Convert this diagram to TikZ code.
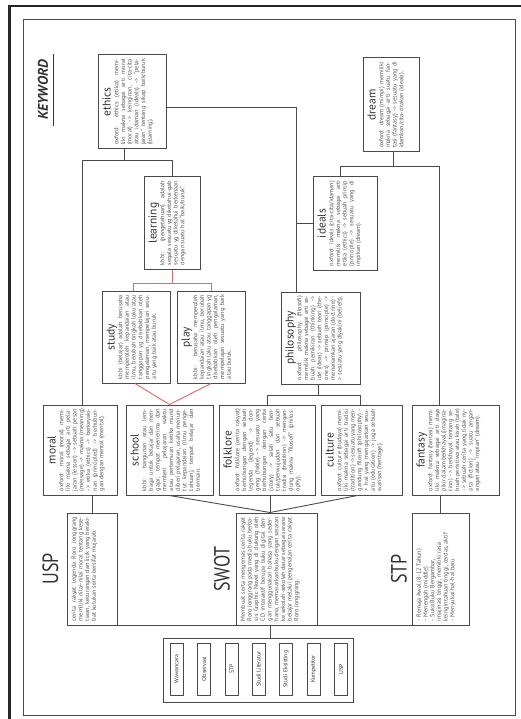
\documentclass[tikz,border=0pt]{standalone}
\usepackage{fontspec}
\setmainfont{PT Sans}
\usetikzlibrary{calc}
\definecolor{lnc}{HTML}{4A4A4A}
\definecolor{txc}{HTML}{555555}
\definecolor{ttc}{HTML}{333333}
\definecolor{redl}{HTML}{E06666}
\newcommand\kb[6]{\node[kbox] (#1) at (#2,#3) {\parbox[c][\dimexpr#4pt-9pt\relax][t]{\dimexpr#5pt-8pt\relax}{#6}};}
\newcommand\ttl[1]{{\centering\fontsize{11.5}{12}\selectfont\color{ttc}#1\par}\vspace{1pt}}
\newcommand\bdy[1]{{\fontsize{6.1}{6.7}\selectfont\color{txc}\tolerance=9999\hbadness=10000\hfuzz=3pt\emergencystretch=4pt\lineskiplimit=-6pt #1\par}}
\tikzset{
  kbox/.style={draw=lnc, line width=1pt, rotate=90, inner xsep=4pt, inner ysep=4.5pt, fill=white},
  ln/.style={draw=lnc, line width=0.9pt},
  rl/.style={draw=redl, line width=0.9pt},
  bigt/.style={rotate=90, inner sep=0pt, text=ttc, font=\fontsize{22}{22}\selectfont},
  sbox/.style={draw=lnc, line width=0.9pt, rotate=90, minimum width=52pt, minimum height=13pt, inner sep=0pt, text=ttc, font=\fontsize{5.8}{6}\selectfont}
}
\begin{document}
\begin{tikzpicture}[x=1pt,y=-1pt]
\fill[white] (0,0) rectangle (521,719);
\useasboundingbox (0,0) rectangle (521,719);
% frames
\draw[black!85, line width=2.2pt] (9.5,730) -- (9.5,6) -- (530,6);
\draw[lnc, line width=0.8pt] (23,19) rectangle (515,715);
% keyword
\node[rotate=90, inner sep=0pt, text=ttc, font=\bfseries\itshape\fontsize{14}{14}\selectfont] (kw) at (43,90) {KEYWORD};
\draw[ttc, line width=1.1pt] ($(kw.south west)+(5,6)$) -- ($(kw.south east)+(5,-6)$);
% boxes
\kb{ethics}{132}{102}{68}{94}{\ttl{ethics}\bdy{oxford: ethics (etika) memiliki makna sebagai arti moral (moral) -> keinginan, cita-cita atau idaman (ideals) -> “pelajaran” tentang sikap baik/buruk (learning).}}
\kb{learning}{172}{223}{56}{92}{\ttl{learning}\bdy{kbbi: (pengetahuan) adalah segala sesuatu yg diketahui-gab sesuatu yg diketahui berkenaan dengan suatu hal “baik/buruk”.}}
\kb{study}{136}{337}{68}{92}{\ttl{study}\bdy{kbbi (belajar) adalah berusaha memperoleh kepandaian atau ilmu, berubah tingkah laku atau tanggapan yg disebabkan oleh pengalaman, mempelajari sesuatu yang baik atau buruk.}}
\kb{play}{211}{337}{68}{92}{\ttl{play}\bdy{kbbi: berusaha memperoleh kepandaian atau ilmu, berubah tingkah laku atau tanggapan yg disebabkan oleh pengalaman, mempelajari sesuatu yang baik atau buruk.}}
\kb{philosophy}{320.5}{338}{79}{92}{\ttl{philosophy}\bdy{oxford: philosophy (filosofi) memiliki makna sebagai arti sebuah pemikiran (thinking) -> ide (ideas) -> sebuah teori (theories) -> prinsip (principle) -> menanamkan ajaran (doctrine) -> sesuatu yang diyakini (beliefs).}}
\kb{ideals}{345}{223.5}{64}{93}{\ttl{ideals}\bdy{oxford: ideals (cita-cita/idaman) memiliki makna sebagai arti etika (ethics) -> sebuah prinsip (principle) -> sesuatu yang di impikan (dream).}}
\kb{dream}{391}{105}{56}{94}{\ttl{dream}\bdy{oxford: dream (mimpi) memiliki makna sebagai arti suatu fantasi (fantasy) -> sesuatu yang di idamkan/cita-citakan (ideals).}}
\kb{moral}{80}{450}{74}{90}{\ttl{moral}\bdy{oxford: moral (moral) memiliki makna sebagai arti pelajaran (lesson) -> sebuah pesan (message) -> makna (meaning) -> etika (ethics) -> berkeyakinan (principled) -> berhubungan dengan mental (mental).}}
\kb{school}{169.5}{450}{87}{90}{\ttl{school}\bdy{kbbi: bangunan atau lembaga untuk belajar dan mengajar, tempat menerima dan memberi pelajaran waktu atau pertemuan ketika murid diberi pelajaran, usaha menuntut kepandaian (ilmu pengetahuan), tempat belajar dan bermain.}}
\kb{folklore}{267}{450}{96}{90}{\ttl{folklore}\bdy{oxford: folklore (cerita rakyat) berhubungan dengan sebuah legenda (legend) -> dongeng (fable) -> sesuatu yang berhubungan dengan cerita (story) -> salah satu bentuk/perwujudan dari sebuah tradisi (tradition) -> mengandung makna “filosofi” (philosophy).}}
\kb{culture}{361.5}{450}{81}{90}{\ttl{culture}\bdy{oxford: culture (budaya) memiliki makna sebagai arti tradisi (tradition) -> sesuatu yang mengandung filosofi (philosophy) -> hal yang mengajarkan sesuatu (education) -> juga sebuah warisan (heritage).}}
\kb{fantasy}{455.5}{450}{87}{90}{\ttl{fantasy}\bdy{oxford: fantasy (fantasi) memiliki makna sebagai arti daya pikir dalam berkhayal (imagination) -> berkhayal tentang sebuah peristiwa atau kisah (tale) -> sebuah cerita yang tidak nyata (fiction) -> suatu angan-angan atau “impian” (dream).}}
\kb{USP}{92}{569}{50}{112}{\bdy{cerita rakyat legenda Roro Jonggrang memiliki nilai-nilai moral tentang kesetiaan, kecurangan dan licik yang berakibat kutukan serta bersifat mujarab.}}
\kb{SWOT}{276.5}{569}{81}{112}{\bdy{Membuat serta mengemas cerita rakyat Roro Jonggrang pada media buku berbasis Graphic Novel yang di dukung oleh CD interaktif berupa buku digital dengan menggunakan bahasa yang sederhana, memasarkan buku dengan sasaran ke sekolah-sekolah dasar sebagai sarana belajar melalui pengenalan cerita rakyat Roro Jonggrang.}}
\kb{STP}{440.5}{569}{57}{112}{\bdy{\raggedright - Remaja Awal (8-12 Tahun)\\- Menengah (middle)\\- Suka Buku Bergambar,\\ imajinasi tinggi, memiliki rasa keingintahuan tinggi, cerdas, aktif\\- Menyukai hal-hal baru}}
% big titles
\node[bigt] (uspT) at (50.5,569) {\scalebox{0.82}[1]{USP}};
\node[bigt] (swotT) at (222,569) {\scalebox{0.82}[1]{SWOT}};
\node[bigt] (stpT) at (399,569) {\scalebox{0.82}[1]{STP}};
% list box
\node[draw=lnc, line width=1pt, minimum width=190pt, minimum height=64pt, inner sep=0pt] (list) at (258,670) {};
\node[sbox] (s1) at (176.5,669) {Wawancara};
\node[sbox] (s2) at (204,669) {Observasi};
\node[sbox] (s3) at (231.5,669) {STP};
\node[sbox] (s4) at (258.5,669) {Studi Literatur};
\node[sbox] (s5) at (286,669) {Studi Eksisting};
\node[sbox] (s6) at (313.5,669) {Kompetitor};
\node[sbox] (s7) at (341,669) {USP};
% connectors
\draw[ln] ([xshift=-8pt]ethics.west) -- ++(0,11) coordinate (e1);
\draw[ln] ([xshift=2pt]moral.east) |- (e1) -| (learning.east);
\coordinate (pv) at ([xshift=-24.5pt]philosophy.east);
\draw[ln] ([yshift=-5pt]ethics.south) -| (pv);
\draw[ln] (ideals.north) -- (ideals.north -| pv);
\draw[rl] (learning.west) -- ++(0,14) coordinate (r1);
\draw[rl] ([xshift=-3pt]study.east) |- (r1) -| (play.east);
\draw[rl] ([xshift=-1pt]study.west) -- (school.east);
\draw[rl] (play.west) -- (school.east);
\draw[ln] ([xshift=2pt]dream.west) -- ++(0,14) coordinate (d1);
\draw[ln] ([xshift=-5pt]ideals.east) |- (d1) -| ([xshift=-16.5pt]fantasy.east);
\draw[ln] ([xshift=-2.5pt]philosophy.west) -- ++(0,11) coordinate (p1);
\draw[ln] (folklore.east) |- (p1) -| ([xshift=-1.5pt]culture.east);
\draw[ln] (USP.east) -- (USP.east |- moral.west);
\draw[ln] (STP.east) -- (STP.east |- fantasy.west);
\coordinate (sw) at ([xshift=-6.5pt]SWOT.east);
\draw[ln] (school.west) -- (sw);
\draw[ln] ([xshift=3pt]folklore.west) -- (sw);
\draw[ln] ([xshift=-4pt]culture.west) -- (sw);
\draw[ln] (USP.south west) -- (SWOT.north west);
\draw[ln] (SWOT.south west) -- (STP.north west);
\draw[ln] ([xshift=-6.5pt]SWOT.west) -- ([xshift=-6.5pt]SWOT.west |- list.north);
\end{tikzpicture}
\end{document}
